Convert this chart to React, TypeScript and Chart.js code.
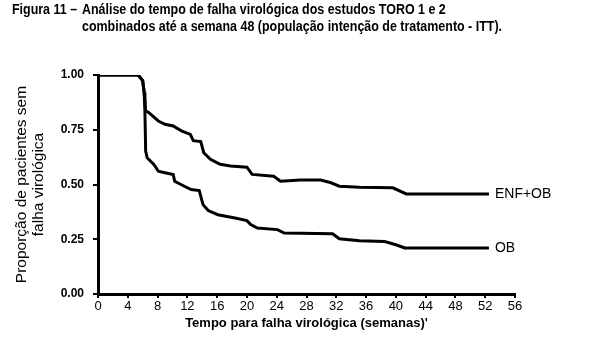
import React, { useEffect, useRef } from 'react';
import { Chart, registerables } from 'chart.js';

Chart.register(...registerables);

const titlePrefix = 'Figura 11 – ';
const titleLine1 = 'Análise do tempo de falha virológica dos estudos TORO 1 e 2';
const titleLine2 = 'combinados até a semana 48 (população intenção de tratamento - ITT).';
const xTitle = "Tempo para falha virológica (semanas)'";
const yTitle = ['Proporção de pacientes sem', 'falha virológica'];
const seriesNames = ['ENF+OB', 'OB'];

const enfWeeks = [0, 5.4, 6.0, 6.2, 6.4, 6.8, 8.1, 9.0, 10.1, 11.2, 12.4, 12.8, 13.8, 14.2, 15.1, 16.4, 17.8, 20.0, 20.7, 23.6, 24.5, 27.2, 29.9, 31.3, 32.4, 35.1, 39.6, 41.4, 52.5];
const enfValues = [1, 1, 0.974, 0.92, 0.836, 0.829, 0.79, 0.775, 0.767, 0.745, 0.729, 0.70, 0.696, 0.645, 0.615, 0.592, 0.584, 0.579, 0.546, 0.538, 0.515, 0.52, 0.52, 0.508, 0.492, 0.488, 0.485, 0.457, 0.457];

const obWeeks = [0, 5.4, 6.0, 6.2, 6.3, 6.4, 6.6, 7.5, 8.1, 9.0, 10.1, 10.3, 11.6, 12.5, 13.6, 14.1, 14.8, 16.1, 18.4, 20.0, 20.5, 21.4, 24.1, 25.0, 31.5, 32.4, 35.1, 38.5, 40.0, 41.2, 52.5];
const obValues = [1, 1, 0.974, 0.92, 0.836, 0.653, 0.622, 0.592, 0.561, 0.554, 0.546, 0.515, 0.492, 0.477, 0.472, 0.408, 0.381, 0.362, 0.347, 0.335, 0.317, 0.301, 0.294, 0.278, 0.275, 0.252, 0.243, 0.24, 0.225, 0.21, 0.21];

const xMin = 0;
const xMax = 56;
const xStep = 4;
const yMin = 0;
const yMax = 1;
const yStep = 0.25;

const FONT = '"Liberation Sans", Arial, sans-serif';

const titlePlugin = {
  id: 'figTitle',
  afterDraw(chart: any) {
    const ctx = chart.ctx;
    ctx.save();
    ctx.font = `bold 14px ${FONT}`;
    ctx.fillStyle = '#000';
    ctx.textBaseline = 'alphabetic';
    ctx.textAlign = 'left';
    const w2 = ctx.measureText(titleLine2).width;
    const sx = 420 / w2;
    const draw = (t: string, x: number, y: number) => {
      ctx.save();
      ctx.translate(x, y);
      ctx.scale(sx, 1);
      ctx.fillText(t, 0, 0);
      ctx.restore();
    };
    draw(titlePrefix, 12, 13.5);
    draw(titleLine1, 82, 13.5);
    draw(titleLine2, 82, 31);
    ctx.restore();
  },
};

const endLabelPlugin = {
  id: 'endLabels',
  afterDatasetsDraw(chart: any) {
    const ctx = chart.ctx;
    ctx.save();
    ctx.font = `14px ${FONT}`;
    ctx.fillStyle = '#000';
    ctx.textBaseline = 'middle';
    ctx.textAlign = 'left';
    chart.data.datasets.forEach((ds: any, i: number) => {
      const meta = chart.getDatasetMeta(i);
      const pt = meta.data[meta.data.length - 1];
      if (pt) ctx.fillText(seriesNames[i], pt.x + 6, pt.y + 0.5);
    });
    ctx.restore();
  },
};

export default function App() {
  const ref = useRef<HTMLCanvasElement | null>(null);
  useEffect(() => {
    if (!ref.current) return;
    const mk = (xs: number[], ys: number[]) => xs.map((x, i) => ({ x, y: ys[i] }));
    const chart = new Chart(ref.current, {
      type: 'line',
      data: {
        datasets: [
          {
            label: seriesNames[0],
            data: mk(enfWeeks, enfValues),
            borderColor: '#000',
            borderWidth: 3,
            pointRadius: 0,
            tension: 0,
            fill: false,
          },
          {
            label: seriesNames[1],
            data: mk(obWeeks, obValues),
            borderColor: '#000',
            borderWidth: 3,
            pointRadius: 0,
            tension: 0,
            fill: false,
          },
        ],
      },
      options: {
        animation: false,
        responsive: false,
        devicePixelRatio: 1,
        layout: { padding: { top: 75, right: 78, left: 0, bottom: 0 } },
        plugins: {
          legend: { display: false },
          tooltip: { enabled: false },
          title: { display: false },
        },
        scales: {
          x: {
            type: 'linear',
            min: xMin,
            max: xMax,
            ticks: {
              stepSize: xStep,
              color: '#000',
              font: { family: FONT, size: 13 },
              padding: 1,
              maxRotation: 0,
              autoSkip: false,
            },
            grid: { display: true, drawOnChartArea: false, drawTicks: true, tickLength: 4, color: '#000', lineWidth: 2 },
            border: { display: true, color: '#000', width: 3 },
            title: {
              display: true,
              text: xTitle,
              color: '#000',
              font: { family: FONT, size: 13, weight: 'bold', lineHeight: '16px' },
              padding: { top: 0, bottom: 30 },
            },
            afterFit(scale: any) {
              scale.height = 67;
            },
          },
          y: {
            type: 'linear',
            min: yMin,
            max: yMax,
            ticks: {
              stepSize: yStep,
              color: '#000',
              font: { family: FONT, size: 12, weight: 'bold' },
              padding: 9,
              callback: (v: any) => Number(v).toFixed(2),
            },
            grid: { display: true, drawOnChartArea: false, drawTicks: true, tickLength: 5, color: '#000', lineWidth: 2 },
            border: { display: true, color: '#000', width: 3 },
            title: {
              display: true,
              text: yTitle,
              color: '#000',
              font: { family: FONT, size: 15.5, lineHeight: '17px' },
              padding: { top: 13.5, bottom: 0 },
            },
            afterFit(scale: any) {
              scale.width = 98;
            },
          },
        },
      },
      plugins: [titlePlugin, endLabelPlugin],
    } as any);
    return () => chart.destroy();
  }, []);
  return (
    <div style={{ position: 'absolute', left: 0, top: 0, width: 593, height: 361, background: '#fff' }}>
      <canvas ref={ref} width={593} height={361} style={{ width: 593, height: 361 }} />
    </div>
  );
}
